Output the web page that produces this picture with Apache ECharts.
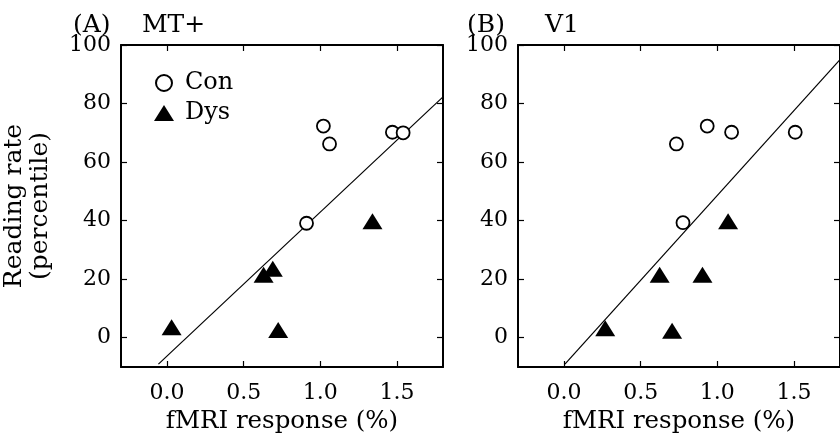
<!DOCTYPE html>
<html>
<head>
<meta charset="utf-8">
<script src="https://cdn.jsdelivr.net/npm/echarts@6/dist/echarts.min.js"></script>
<style>
  html, body { margin: 0; padding: 0; background: #fff; }
  #chart { width: 840px; height: 441px; }
</style>
</head>
<body>
<div id="chart"></div>
<script>
// fMRI response (%) vs reading rate (percentile)
const xTicks = [0, 0.5, 1.0, 1.5];
const yTicks = [0, 20, 40, 60, 80, 100];

// panel A: MT+
const mtCon = [[1.02, 72.3], [1.06, 66.2], [1.47, 70.2], [1.54, 70.0], [0.91, 39.1]];
const mtDys = [[1.34, 39.8], [0.63, 21.5], [0.69, 23.6], [0.725, 2.6], [0.03, 3.6]];
const mtFit = [[-0.056, -9], [1.8, 82.3]];

// panel B: V1
const v1Con = [[0.733, 66.2], [0.934, 72.3], [1.093, 70.2], [1.508, 70.2], [0.776, 39.3]];
const v1Dys = [[1.07, 39.8], [0.624, 21.5], [0.903, 21.5], [0.269, 3.2], [0.705, 2.4]];
const v1Fit = [[0.006, -9], [1.8, 95]];

const font = "DejaVu Serif";
const ink = "#000";

const xAxisFor = (gridIndex, top, withName) => ({
    type: "value",
    gridIndex,
    position: top ? "top" : "bottom",
    min: -0.3,
    max: 1.8,
    axisLine: { show: true, onZero: false, lineStyle: { color: ink, width: 2 } },
    splitLine: { show: false },
    axisTick: { show: true, inside: true, length: 6, customValues: xTicks, lineStyle: { color: ink, width: 1.2 } },
    axisLabel: {
        show: !top,
        customValues: xTicks,
        formatter: (v) => v.toFixed(1),
        color: ink,
        fontFamily: font,
        fontSize: 22,
        margin: 15,
    },
    name: withName ? "fMRI response (%)" : "",
    nameLocation: "middle",
    nameGap: 38,
    nameTextStyle: { color: ink, fontFamily: font, fontSize: 24.5 },
});

const yAxisFor = (gridIndex, right, withName) => ({
    type: "value",
    gridIndex,
    position: right ? "right" : "left",
    min: -10,
    max: 100,
    axisLine: { show: true, onZero: false, lineStyle: { color: ink, width: 2 } },
    splitLine: { show: false },
    axisTick: { show: true, inside: true, length: 6, customValues: yTicks, lineStyle: { color: ink, width: 1.2 } },
    axisLabel: {
        show: !right,
        customValues: yTicks,
        color: ink,
        fontFamily: font,
        fontSize: 22,
        margin: 10,
    },
    name: withName ? "Reading rate\n(percentile)" : "",
    nameLocation: "middle",
    nameRotate: 90,
    nameGap: 68,
    nameTextStyle: { color: ink, fontFamily: font, fontSize: 25, lineHeight: 26 },
});

const conStyle = { color: "#fff", borderColor: ink, borderWidth: 1.8, opacity: 1 };
const dysStyle = { color: ink, opacity: 1 };

const scatter = (name, data, axis, isCon) => ({
    name,
    type: "scatter",
    xAxisIndex: axis,
    yAxisIndex: axis,
    data,
    symbol: isCon ? "circle" : "triangle",
    symbolSize: isCon ? 13 : [20, 16],
    itemStyle: isCon ? conStyle : dysStyle,
    z: 3,
});

const fitLine = (data, axis) => ({
    type: "line",
    xAxisIndex: axis,
    yAxisIndex: axis,
    data,
    symbol: "none",
    lineStyle: { color: ink, width: 1.2 },
    silent: true,
    z: 2,
});

const titleStyle = { color: ink, fontFamily: font, fontSize: 25, fontWeight: "normal" };

const option = {
    backgroundColor: "#fff",
    animation: false,
    title: [
        { text: "(A)", left: 68, top: 8, textStyle: titleStyle },
        { text: "MT+", left: 137, top: 8, textStyle: titleStyle },
        { text: "(B)", left: 462, top: 8, textStyle: titleStyle },
        { text: "V1", left: 540, top: 8, textStyle: titleStyle },
    ],
    legend: {
        data: ["Con", "Dys"],
        orient: "vertical",
        left: 149,
        top: 66,
        itemWidth: 20,
        itemHeight: 16,
        itemGap: 6,
        textStyle: { color: ink, fontFamily: font, fontSize: 24, padding: [0, 0, 0, 6] },
    },
    grid: [
        { left: 120, top: 45, width: 323, height: 322 },
        { left: 518, top: 45, width: 326, height: 322 },
    ],
    xAxis: [
        xAxisFor(0, false, true),
        xAxisFor(1, false, true),
        xAxisFor(0, true, false),
        xAxisFor(1, true, false),
    ],
    yAxis: [
        yAxisFor(0, false, true),
        yAxisFor(1, false, false),
        yAxisFor(0, true, false),
        yAxisFor(1, true, false),
    ],
    series: [
        fitLine(mtFit, 0),
        scatter("Con", mtCon, 0, true),
        scatter("Dys", mtDys, 0, false),
        fitLine(v1Fit, 1),
        scatter("Con", v1Con, 1, true),
        scatter("Dys", v1Dys, 1, false),
    ],
};

const chart = echarts.init(document.getElementById("chart"));
chart.setOption(option);
</script>
</body>
</html>
